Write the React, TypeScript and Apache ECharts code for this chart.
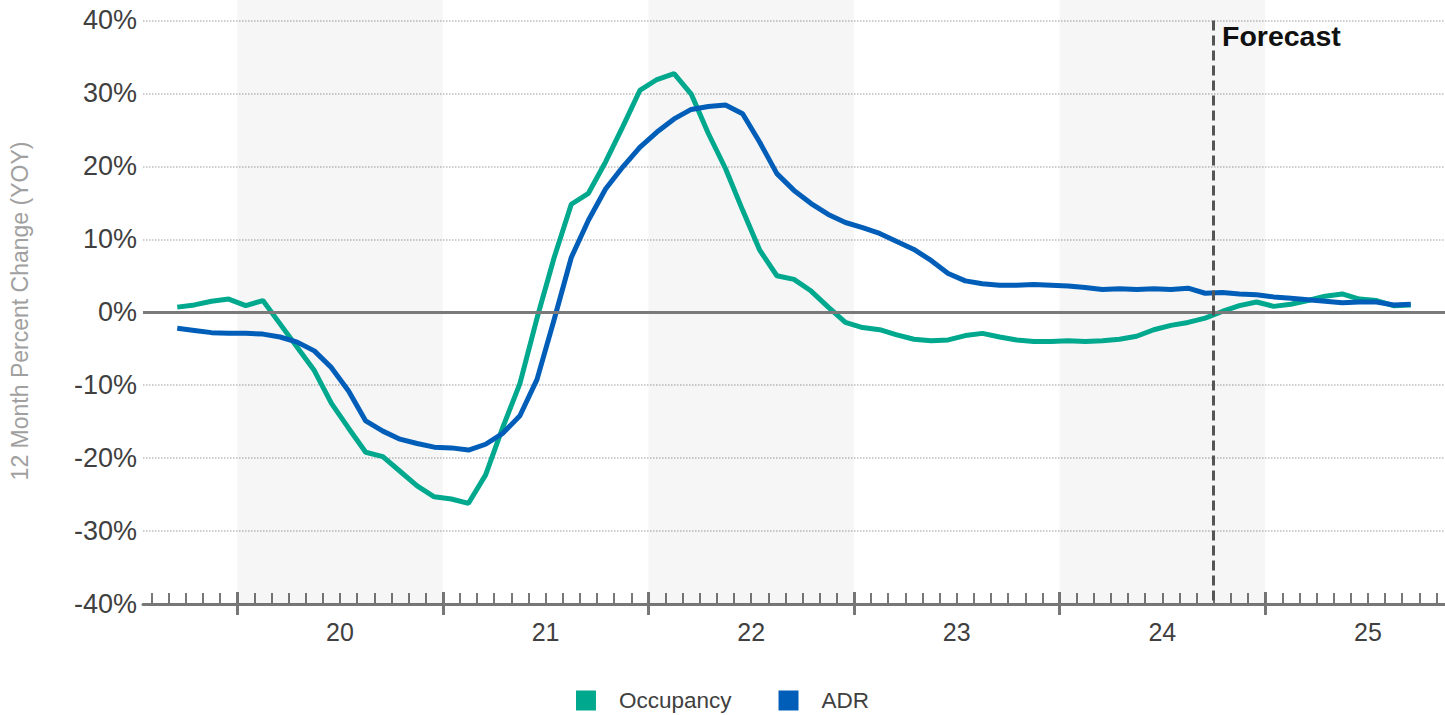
import React, { useEffect, useRef } from 'react';
import * as echarts from 'echarts';

// Monthly points, Sep 2019 .. Sep 2025 (12-month % change, YOY)
const MONTHS = [
  '2019-09', '2019-10', '2019-11', '2019-12',
  '2020-01', '2020-02', '2020-03', '2020-04', '2020-05', '2020-06', '2020-07', '2020-08', '2020-09', '2020-10', '2020-11', '2020-12',
  '2021-01', '2021-02', '2021-03', '2021-04', '2021-05', '2021-06', '2021-07', '2021-08', '2021-09', '2021-10', '2021-11', '2021-12',
  '2022-01', '2022-02', '2022-03', '2022-04', '2022-05', '2022-06', '2022-07', '2022-08', '2022-09', '2022-10', '2022-11', '2022-12',
  '2023-01', '2023-02', '2023-03', '2023-04', '2023-05', '2023-06', '2023-07', '2023-08', '2023-09', '2023-10', '2023-11', '2023-12',
  '2024-01', '2024-02', '2024-03', '2024-04', '2024-05', '2024-06', '2024-07', '2024-08', '2024-09', '2024-10', '2024-11', '2024-12',
  '2025-01', '2025-02', '2025-03', '2025-04', '2025-05', '2025-06', '2025-07', '2025-08', '2025-09',
];

const OCCUPANCY = [
  0.7, 1.0, 1.5, 1.8,
  0.9, 1.6, -1.6, -4.8, -8.0, -12.5, -15.9, -19.2, -19.8, -21.8, -23.8, -25.3,
  -25.6, -26.2, -22.3, -15.8, -9.8, -0.8, 7.5, 14.8, 16.3, 20.6, 25.4, 30.4,
  31.9, 32.7, 29.9, 24.5, 19.7, 14.0, 8.5, 5.0, 4.5, 2.9, 0.7, -1.4,
  -2.1, -2.4, -3.1, -3.7, -3.9, -3.8, -3.2, -2.9, -3.4, -3.8, -4.0, -4.0,
  -3.9, -4.0, -3.9, -3.7, -3.3, -2.4, -1.8, -1.4, -0.8, 0.1, 0.9, 1.4,
  0.8, 1.1, 1.6, 2.2, 2.5, 1.8, 1.6, 0.9, 1.0,
];

const ADR = [
  -2.2, -2.5, -2.8, -2.9,
  -2.9, -3.0, -3.4, -4.1, -5.3, -7.6, -10.8, -14.9, -16.3, -17.4, -18.0, -18.5,
  -18.6, -18.9, -18.1, -16.6, -14.2, -9.2, -1.0, 7.5, 12.6, 16.9, 19.9, 22.6,
  24.7, 26.5, 27.8, 28.2, 28.4, 27.2, 23.3, 19.0, 16.7, 14.9, 13.4, 12.3,
  11.6, 10.8, 9.7, 8.6, 7.1, 5.3, 4.3, 3.9, 3.7, 3.7, 3.8, 3.7,
  3.6, 3.4, 3.1, 3.2, 3.1, 3.2, 3.1, 3.3, 2.6, 2.7, 2.5, 2.4,
  2.1, 1.9, 1.7, 1.5, 1.3, 1.4, 1.4, 1.0, 1.1,
];

const Y_TICKS = [-40, -30, -20, -10, 0, 10, 20, 30, 40];
const YEARS = ['2020', '2021', '2022', '2023', '2024', '2025'];
const YEAR_LABELS = ['20', '21', '22', '23', '24', '25'];
const SHADED_YEARS = ['2020', '2022', '2024'];
const FORECAST_START = '2024-10';
const AXIS_START = '2019-07';
const AXIS_END = '2025-11';

const BASE_YEAR = 2019;
// month boundary value (start of month), in months since Jan 2019
const monthStart = (label: string) => {
  const [y, m] = label.split('-').map(Number);
  return (y - BASE_YEAR) * 12 + (m - 1);
};
const monthMid = (label: string) => monthStart(label) + 0.5;
const yearStart = (y: string) => monthStart(`${y}-01`);
const yearMid = (y: string) => monthStart(`${y}-07`);

const FONT = '"Liberation Sans", Arial, Helvetica, sans-serif';
const GREEN = '#00a88e';
const BLUE = '#005eb8';
const AXIS_GREY = '#777777';
const TEXT = '#404040';

export default function App() {
  const ref = useRef<HTMLDivElement>(null);

  useEffect(() => {
    if (!ref.current) return;
    const chart = echarts.init(ref.current, undefined, { renderer: 'svg' });

    const xMin = monthMid(AXIS_START);
    const xMax = monthMid(AXIS_END);
    const minorTicks: number[] = [];
    for (let v = Math.ceil(xMin); v <= Math.floor(xMax); v++) minorTicks.push(v);
    const majorTicks = YEARS.map(yearStart);
    const labelValues = YEARS.map(yearMid);
    const labelMap: Record<string, string> = {};
    YEARS.forEach((y, i) => { labelMap[String(yearMid(y))] = YEAR_LABELS[i]; });

    const occData = MONTHS.map((m, i) => [monthMid(m), OCCUPANCY[i]]);
    const adrData = MONTHS.map((m, i) => [monthMid(m), ADR[i]]);

    const baseX = { type: 'value', min: xMin, max: xMax, position: 'bottom', splitLine: { show: false } };

    chart.setOption({
      animation: false,
      grid: { left: 142, right: 0, top: 0, bottom: 111, containLabel: false },
      xAxis: [
        {
          ...baseX,
          axisLine: { show: true, onZero: false, lineStyle: { color: AXIS_GREY, width: 3 } },
          axisTick: { show: true, inside: true, length: 11, customValues: minorTicks, lineStyle: { color: AXIS_GREY, width: 2 } },
          axisLabel: {
            show: true,
            customValues: labelValues,
            formatter: (v: number) => labelMap[String(v)] ?? '',
            color: TEXT,
            fontSize: 25,
            fontFamily: FONT,
            margin: 15,
          },
        },
        {
          ...baseX,
          axisLine: { show: false, onZero: false },
          axisTick: { show: true, inside: false, length: 11, customValues: majorTicks, lineStyle: { color: AXIS_GREY, width: 3 } },
          axisLabel: { show: false },
        },
        {
          ...baseX,
          axisLine: { show: false, onZero: false },
          axisTick: { show: true, inside: true, length: 12, customValues: majorTicks, lineStyle: { color: AXIS_GREY, width: 3 } },
          axisLabel: { show: false },
        },
      ],
      yAxis: {
        type: 'value',
        min: -40,
        max: 42.8,
        interval: 10,
        name: '12 Month Percent Change (YOY)',
        nameLocation: 'middle',
        nameGap: 112,
        nameTextStyle: { color: '#a0a0a0', fontSize: 23, fontFamily: FONT, padding: [0, 18, 0, 0] },
        axisLine: { show: false },
        axisTick: { show: false, customValues: Y_TICKS },
        axisLabel: {
          customValues: Y_TICKS,
          formatter: (v: number) => `${v}%`,
          color: TEXT,
          fontSize: 27,
          fontFamily: FONT,
          margin: 6,
        },
        splitLine: { show: true, lineStyle: { color: '#bdbdbd', width: 1.5, type: 'dotted' } },
      },
      legend: {
        data: ['Occupancy', 'ADR'],
        bottom: 3,
        left: 'center',
        padding: [0, 0, 0, 6],
        icon: 'rect',
        itemWidth: 20,
        itemHeight: 20,
        itemGap: 47,
        textStyle: { color: TEXT, fontSize: 22.5, fontFamily: FONT, padding: [0, 0, 0, 18] },
        selectedMode: false,
      },
      graphic: [
        {
          type: 'text',
          left: 1222,
          top: 21,
          style: { text: 'Forecast', font: `bold 28.5px ${FONT}`, fill: '#111111' },
        },
      ],
      series: [
        {
          name: '_bg',
          type: 'line',
          data: [],
          z: 1,
          silent: true,
          markArea: {
            silent: true,
            itemStyle: { color: 'rgba(0,0,0,0.035)' },
            data: SHADED_YEARS.map((y) => [{ xAxis: yearStart(y) }, { xAxis: yearStart(y) + 12 }]),
          },
          markLine: {
            silent: true,
            symbol: 'none',
            label: { show: false },
            lineStyle: { color: '#7a7a7a', width: 3, type: 'solid' },
            data: [{ yAxis: 0 }],
          },
        },
        {
          name: 'Occupancy',
          type: 'line',
          data: occData,
          showSymbol: false,
          symbol: 'none',
          z: 3,
          lineStyle: { color: GREEN, width: 5 },
          itemStyle: { color: GREEN },
        },
        {
          name: 'ADR',
          type: 'line',
          data: adrData,
          showSymbol: false,
          symbol: 'none',
          z: 4,
          lineStyle: { color: BLUE, width: 5 },
          itemStyle: { color: BLUE },
          markLine: {
            silent: true,
            symbol: 'none',
            label: { show: false },
            lineStyle: { color: '#555555', width: 3, type: [10, 5] },
            data: [[
              { xAxis: monthStart(FORECAST_START), yAxis: 40 },
              { xAxis: monthStart(FORECAST_START), yAxis: -40 },
            ]],
          },
        },
      ],
    });

    return () => chart.dispose();
  }, []);

  return (
    <div
      ref={ref}
      style={{ position: 'fixed', left: 0, top: 0, width: 1445, height: 715, background: '#ffffff' }}
    />
  );
}
